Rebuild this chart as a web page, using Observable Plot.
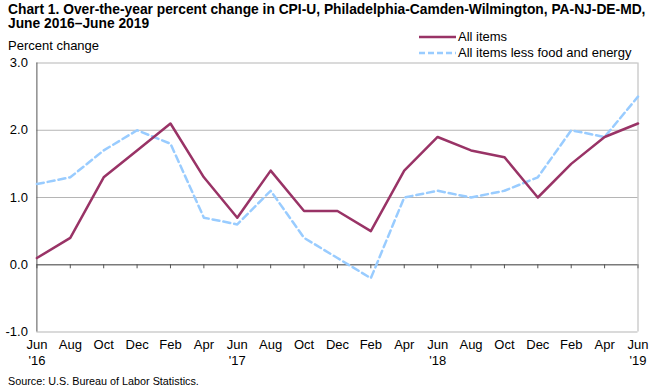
<!DOCTYPE html>
<html><head><meta charset="utf-8">
<script src="https://cdn.jsdelivr.net/npm/d3@7"></script>
<script src="https://cdn.jsdelivr.net/npm/@observablehq/plot@0.6"></script>
<style>
body{margin:0;background:#fff;font-family:"Liberation Sans",Arial,sans-serif;color:#000;}
#wrap{position:relative;width:650px;height:388px;overflow:hidden;}
#title{position:absolute;left:8px;top:3px;font-size:13.8px;font-weight:bold;line-height:14px;white-space:nowrap;}
#ylab{position:absolute;left:8px;top:38px;font-size:13px;}
#chart{position:absolute;left:0;top:34px;}
.leg{position:absolute;left:419px;font-size:13px;display:flex;align-items:center;white-space:nowrap;}
.leg svg{margin-right:2px;}
#source{position:absolute;left:8px;top:375px;font-size:10.8px;}
</style></head>
<body><div id="wrap">
<div id="chart"></div>
<div id="title">Chart 1. Over-the-year percent change in CPI-U, Philadelphia-Camden-Wilmington, PA-NJ-DE-MD,<br>June 2016–June 2019</div>
<div id="ylab">Percent change</div>
<div class="leg" style="top:29px"><svg width="37" height="8"><line x1="0" y1="4" x2="37" y2="4" stroke="#993366" stroke-width="2.5"/></svg>All items</div>
<div class="leg" style="top:45px"><svg width="37" height="8"><line x1="0" y1="4" x2="37" y2="4" stroke="#99ccff" stroke-width="2.5" stroke-dasharray="6,3"/></svg>All items less food and energy</div>
<div id="source">Source: U.S. Bureau of Labor Statistics.</div>
</div>
<script>
const months = ["Jun","Aug","Oct","Dec","Feb","Apr","Jun","Aug","Oct","Dec","Feb","Apr","Jun","Aug","Oct","Dec","Feb","Apr","Jun"];
const years = ["'16","","","","","","'17","","","","","","'18","","","","","","'19"];
const allItems = [0.1,0.4,1.3,1.7,2.1,1.3,0.7,1.4,0.8,0.8,0.5,1.4,1.9,1.7,1.6,1.0,1.5,1.9,2.1];
const coreItems = [1.2,1.3,1.7,2.0,1.8,0.7,0.6,1.1,0.4,0.1,-0.2,1.0,1.1,1.0,1.1,1.3,2.0,1.9,2.5];
const yTicks = [-1,0,1,2,3];

const idx = months.map((_, i) => i);
const chart = Plot.plot({
  width: 650,
  height: 338,
  marginTop: 28.5,
  marginBottom: 40.5,
  marginLeft: 36.4,
  marginRight: 12.5,
  style: {fontFamily: "Liberation Sans, Arial, sans-serif", fontSize: "12px", color: "#000", background: "transparent"},
  x: {domain: [0, months.length - 1]},
  y: {domain: [-1, 3]},
  marks: [
    Plot.ruleY([1, 2, 3], {stroke: "#b5b5b5", strokeWidth: 1}),
    Plot.ruleY([-1], {stroke: "#b5b5b5", strokeWidth: 1}),
    Plot.ruleX([months.length - 1], {y1: -1, y2: 3, stroke: "#b5b5b5", strokeWidth: 1}),
    Plot.ruleY([0], {stroke: "#7a7a7a", strokeWidth: 1.5}),
    Plot.ruleX(idx, {x: d => d, y1: 0, y2: -0.06, stroke: "#555", strokeWidth: 1}),
    Plot.ruleX([0], {y1: -1, y2: 3, stroke: "#555", strokeWidth: 1}),
    Plot.lineY(coreItems, {x: (d, i) => i, y: d => d, stroke: "#99ccff", strokeWidth: 2.5, strokeDasharray: "7,4"}),
    Plot.lineY(allItems, {x: (d, i) => i, y: d => d, stroke: "#993366", strokeWidth: 2.5}),
    Plot.axisY({ticks: yTicks, tickFormat: d => d.toFixed(1), tickSize: 0, tickPadding: 9, fontSize: 13, label: null}),
    Plot.axisX({ticks: idx, tickFormat: i => years[i] ? months[i] + "\n" + years[i] : months[i], tickSize: 0, tickPadding: 5, lineHeight: 1.25, fontSize: 13, label: null})
  ]
});
document.getElementById("chart").appendChild(chart);
</script>
</body></html>
